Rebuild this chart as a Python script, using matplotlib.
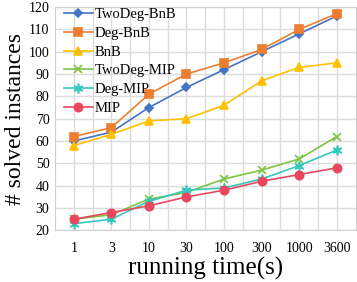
import matplotlib
matplotlib.use("Agg")
import matplotlib.pyplot as plt

times = ["1", "3", "10", "30", "100", "300", "1000", "3600"]
two_deg_bnb = [60, 64, 75, 84, 92, 100, 108, 116]
deg_bnb = [62, 66, 81, 90, 95, 101, 110, 117]
bnb = [58, 63, 69, 70, 76, 87, 93, 95]
two_deg_mip = [25, 27, 34, 37, 43, 47, 52, 62]
deg_mip = [23, 25, 33, 38, 39, 43, 49, 56]
mip = [25, 28, 31, 35, 38, 42, 45, 48]

plt.rcParams['font.family'] = ['Liberation Serif', 'DejaVu Serif']

fig = plt.figure(figsize=(3.57, 2.82), dpi=100)
ax = fig.add_axes([0.154, 0.183, 0.842, 0.792])

x = list(range(len(times)))
series = [
    ("TwoDeg-BnB", two_deg_bnb, "#4472C4", "D", 4),
    ("Deg-BnB", deg_bnb, "#ED7D31", "s", 6),
    ("BnB", bnb, "#FFC000", "^", 6),
    ("TwoDeg-MIP", two_deg_mip, "#7CC444", "x", 6),
    ("Deg-MIP", deg_mip, "#35C8BE", (6, 2, 0), 7),
    ("MIP", mip, "#E8485F", "o", 6),
]
for name, vals, col, mk, ms in series:
    ax.plot(x, vals, color=col, marker=mk, markersize=ms, linewidth=1.2,
            markeredgewidth=1.2, label=name)

ax.set_xlim(-0.5, len(times) - 0.5)
ax.set_ylim(20, 120)
ax.set_yticks(range(20, 121, 10))
ax.set_xticks(x)
ax.set_xticklabels(times)
ax.set_xticks([i + 0.5 for i in x[:-1]], minor=True)
ax.grid(True, which='both', color='#dcdcdc', linewidth=1.0)
ax.set_axisbelow(True)
for s in ax.spines.values():
    s.set_color('#d0d0d0')
ax.tick_params(which='both', length=0, labelsize=10, pad=8)
ax.tick_params(axis='y', pad=4)

ax.set_xlabel("running time(s)", fontsize=18, labelpad=2)
ax.set_ylabel("# solved instances", fontsize=17, labelpad=2)

ax.legend(loc='upper left', bbox_to_anchor=(0.0, 1.035), frameon=False,
          fontsize=10.5, labelspacing=0.38, handlelength=2.0, handletextpad=0.15,
          borderaxespad=0.2)

fig.savefig("out.png", dpi=100)
